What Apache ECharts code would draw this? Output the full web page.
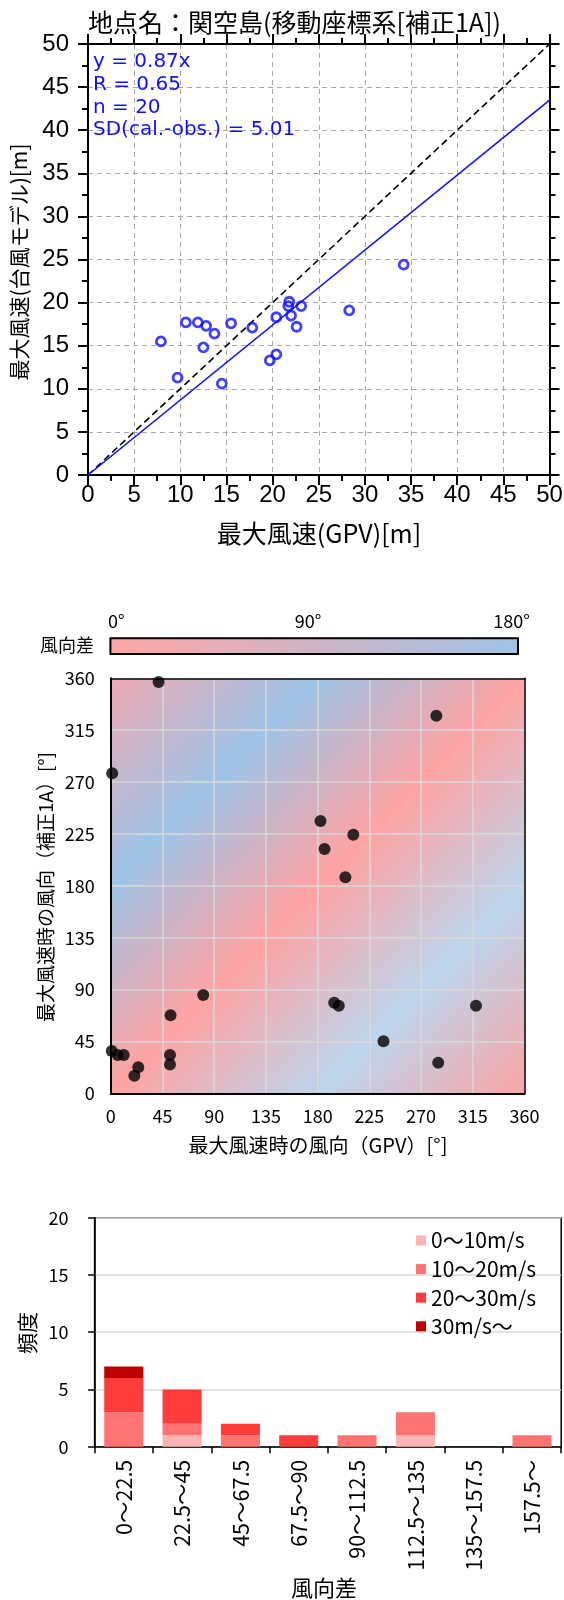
<!DOCTYPE html>
<html><head><meta charset="utf-8">
<script src="https://cdn.jsdelivr.net/npm/echarts@6/dist/echarts.min.js"></script>
<style>html,body{margin:0;padding:0;background:#fff}#c{width:564px;height:1600px}</style>
</head><body><div id="c"></div>
<script>
// ---------- Panel 1: max wind speed scatter ----------
const speedGPV   = [7.9, 9.7, 10.6, 11.9, 12.8, 12.5, 13.7, 14.5, 15.5, 17.8, 19.7, 20.4, 20.4, 21.8, 21.7, 22.0, 22.6, 23.1, 28.3, 34.2];
const speedModel = [15.5, 11.3, 17.7, 17.7, 17.3, 14.8, 16.4, 10.6, 17.6, 17.1, 13.3, 14.0, 18.3, 20.1, 19.6, 18.5, 17.2, 19.6, 19.1, 24.4];
const refLine = [[0, 0], [50, 50]];
const fitLine = [[0, 0], [50, 43.5]];
const statLines = ['y = 0.87x', 'R = 0.65', 'n = 20', 'SD(cal.-obs.) = 5.01'];

// ---------- Panel 2: wind direction scatter ----------
const dirGPV   = [41.6, 283.3, 1.2, 182.5, 211.0, 186.0, 204.1, 80.4, 52.0, 194.4, 198.4, 317.8, 237.3, 284.9, 0.8, 6.0, 11.2, 23.9, 20.5, 51.5, 51.5];
const dirModel = [356.8, 327.6, 277.6, 236.2, 224.3, 211.9, 187.4, 85.3, 67.7, 78.6, 76.0, 76.0, 45.1, 26.6, 36.7, 33.2, 33.2, 22.6, 15.3, 33.2, 25.0];
const bgExtent = [[0, 0, 360, 360]];
const dirTicks = ['0°', '90°', '180°'];

// ---------- Panel 3: histogram ----------
const diffCats = ['0～22.5', '22.5～45', '45～67.5', '67.5～90', '90～112.5', '112.5～135', '135～157.5', '157.5～'];
const cnt0_10  = [0, 1, 0, 0, 0, 1, 0, 0];
const cnt10_20 = [3, 1, 1, 0, 1, 2, 0, 1];
const cnt20_30 = [3, 3, 1, 1, 0, 0, 0, 0];
const cnt30    = [1, 0, 0, 0, 0, 0, 0, 0];
const speedNames = ['0～10m/s', '10～20m/s', '20～30m/s', '30m/s～'];

const JP = '"Noto Sans CJK JP"';
const pink = '#ffa3a3', blue1 = '#9dc3e6', blue2 = '#bcd5ec';
const BLUE = '#1010ff';

const chart = echarts.init(document.getElementById('c'), null, {renderer: 'canvas'});

function valAxis(grid, min, max, interval, pos, showLabel, margin) {
  return {
    gridIndex: grid, type: 'value', min: min, max: max, interval: interval, position: pos,
    axisLine: {show: true, onZero: false, lineStyle: {color: '#000', width: 2}},
    axisTick: {show: true, length: 10, lineStyle: {color: '#000', width: 2}},
    minorTick: {show: true, splitNumber: 2, length: 6, lineStyle: {color: '#000', width: 2}},
    splitLine: {show: showLabel, lineStyle: {color: '#a8a8a8', width: 1, type: [5, 4]}},
    minorSplitLine: {show: false},
    axisLabel: {show: showLabel, fontFamily: '"Liberation Sans"', fontSize: 24, color: '#000', margin: margin}
  };
}

function dirAxis(pos, showLabel, margin) {
  return {
    gridIndex: 1, type: 'value', min: 0, max: 360, interval: 45, position: pos,
    axisLine: {show: true, onZero: false, lineStyle: {color: '#000', width: showLabel ? 2 : 1.5}},
    axisTick: {show: false},
    splitLine: {show: showLabel, lineStyle: {color: '#d9d9d9', width: 1.5}},
    axisLabel: {show: showLabel, fontFamily: JP, fontSize: 18, color: '#000', margin: margin}
  };
}

function txt(x, y, text, opt) {
  opt = opt || {};
  return {
    type: 'text', x: x, y: y, rotation: opt.rot || 0, z: 100,
    style: {
      text: text, font: opt.font || ('22px ' + JP), fill: opt.color || '#000',
      textAlign: opt.align || 'center', textVerticalAlign: 'middle'
    }
  };
}

const graphics = [
  txt(88, 22, '地点名：関空島(移動座標系[補正1A])', {align: 'left', font: '25px ' + JP}),
  txt(19, 262, '最大風速(台風モデル)[m]', {rot: Math.PI / 2, font: '21px ' + JP}),
  txt(319, 533, '最大風速(GPV)[m]', {font: '25px ' + JP}),
  // colour bar
  {
    type: 'rect', z: 100,
    shape: {x: 110.4, y: 638.3, width: 407.6, height: 15.7},
    style: {
      fill: new echarts.graphic.LinearGradient(0, 0, 1, 0, [{offset: 0, color: '#ffa5a5'}, {offset: 1, color: '#9fc4e7'}]),
      stroke: '#000', lineWidth: 2
    }
  },
  txt(108, 621, dirTicks[0], {align: 'left', font: '18px ' + JP}),
  txt(308, 621, dirTicks[1], {font: '18px ' + JP}),
  txt(530, 621, dirTicks[2], {align: 'right', font: '18px ' + JP}),
  txt(94, 645, '風向差', {align: 'right', font: '18px ' + JP}),
  txt(46, 887, '最大風速時の風向（補正1A）[°]', {rot: Math.PI / 2, font: '19px ' + JP}),
  txt(318, 1145, '最大風速時の風向（GPV）[°]', {font: '20px ' + JP}),
  txt(27, 1333, '頻度', {rot: Math.PI / 2, font: '21px ' + JP}),
  txt(324, 1588, '風向差', {font: '22px ' + JP})
];
const statY = [61.7, 85, 107.5, 130];
statLines.forEach(function (s, i) {
  graphics.push(txt(93, statY[i], s, {align: 'left', color: BLUE, font: '20px "DejaVu Sans"'}));
});

const option = {
  animation: false,
  backgroundColor: '#fff',
  textStyle: {fontFamily: JP},
  grid: [
    {left: 88, top: 44, width: 461.5, height: 431, outerBoundsMode: 'none', containLabel: false},
    {left: 110.8, top: 678.3, width: 413.7, height: 415, outerBoundsMode: 'none', containLabel: false},
    {left: 94.6, top: 1217.7, width: 466.6, height: 229, outerBoundsMode: 'none', containLabel: false,
     show: true, borderColor: '#000', borderWidth: 1.5, backgroundColor: 'transparent'}
  ],
  xAxis: [
    valAxis(0, 0, 50, 5, 'bottom', true, 8),
    valAxis(0, 0, 50, 5, 'top', false, 8),
    dirAxis('bottom', true, 14),
    dirAxis('top', false, 8),
    {
      gridIndex: 2, type: 'category', data: diffCats, position: 'bottom',
      axisLine: {show: true, lineStyle: {color: '#000', width: 1.5}},
      axisTick: {show: true, alignWithLabel: false, interval: 0, length: 6.5, lineStyle: {color: '#000', width: 1.5}},
      axisLabel: {interval: 0, rotate: 90, fontFamily: JP, fontSize: 21.5, color: '#000', margin: 13},
      splitLine: {show: false}
    }
  ],
  yAxis: [
    valAxis(0, 0, 50, 5, 'left', true, 19),
    valAxis(0, 0, 50, 5, 'right', false, 8),
    dirAxis('left', true, 16),
    dirAxis('right', false, 8),
    {
      gridIndex: 2, type: 'value', min: 0, max: 20, interval: 5, position: 'left',
      axisLine: {show: true, lineStyle: {color: '#000', width: 1.5}},
      axisTick: {show: true, length: 6.5, lineStyle: {color: '#000', width: 1.5}},
      splitLine: {show: true, lineStyle: {color: '#d9d9d9', width: 1.5}},
      axisLabel: {fontFamily: JP, fontSize: 18, color: '#000', margin: 26}
    }
  ],
  legend: {
    data: speedNames, orient: 'vertical', left: 416, top: 1230,
    itemWidth: 10, itemHeight: 10, itemGap: 7.6, icon: 'rect', padding: 0,
    textStyle: {fontFamily: JP, fontSize: 21, color: '#000'}
  },
  graphic: graphics,
  series: [
    {
      type: 'line', xAxisIndex: 0, yAxisIndex: 0, data: refLine, symbol: 'none', z: 3,
      lineStyle: {color: '#000', width: 1.6, type: [7, 4]}
    },
    {
      type: 'line', xAxisIndex: 0, yAxisIndex: 0, data: fitLine, symbol: 'none', z: 3,
      lineStyle: {color: BLUE, width: 1.6}
    },
    {
      type: 'scatter', xAxisIndex: 0, yAxisIndex: 0, z: 4,
      data: speedGPV.map(function (v, i) { return [v, speedModel[i]]; }),
      symbol: 'circle', symbolSize: 9,
      itemStyle: {color: 'rgba(255,255,255,0)', borderColor: BLUE, borderWidth: 2.8}
    },
    {
      type: 'custom', xAxisIndex: 2, yAxisIndex: 2, z: -1, silent: true,
      data: bgExtent, encode: {x: [0, 2], y: [1, 3]},
      renderItem: function (params, api) {
        const x0 = api.value(0), y0 = api.value(1), x1 = api.value(2), y1 = api.value(3);
        const pBL = api.coord([x0, y0]), pTR = api.coord([x1, y1]), pTL = api.coord([x0, y1]);
        const sx = (pTR[0] - pBL[0]) / (x1 - x0), sy = (pBL[1] - pTR[1]) / (y1 - y0);
        const gx = 1 / sx, gy = 1 / sy;
        const span = (x1 - x0) + (y1 - y0);
        const k = span / (gx * gx + gy * gy);
        const grad = new echarts.graphic.LinearGradient(pTL[0], pTL[1], pTL[0] + k * gx, pTL[1] + k * gy, [
          {offset: 0, color: '#eeaab3'},
          {offset: 0.25, color: blue1},
          {offset: 0.5, color: pink},
          {offset: 0.75, color: blue2},
          {offset: 1, color: '#faa5a5'}
        ], true);
        return {
          type: 'rect',
          shape: {x: pBL[0], y: pTR[1], width: pTR[0] - pBL[0], height: pBL[1] - pTR[1]},
          style: {fill: grad}
        };
      }
    },
    {
      type: 'scatter', xAxisIndex: 2, yAxisIndex: 2, z: 4,
      data: dirGPV.map(function (v, i) { return [v, dirModel[i]]; }),
      symbol: 'circle', symbolSize: 12, itemStyle: {color: '#000'}
    },
    {name: speedNames[0], type: 'bar', stack: 'f', xAxisIndex: 4, yAxisIndex: 4, data: cnt0_10, barCategoryGap: '33%', itemStyle: {color: '#ffb3b3'}},
    {name: speedNames[1], type: 'bar', stack: 'f', xAxisIndex: 4, yAxisIndex: 4, data: cnt10_20, barCategoryGap: '33%', itemStyle: {color: '#ff7373'}},
    {name: speedNames[2], type: 'bar', stack: 'f', xAxisIndex: 4, yAxisIndex: 4, data: cnt20_30, barCategoryGap: '33%', itemStyle: {color: '#ff3b3b'}},
    {name: speedNames[3], type: 'bar', stack: 'f', xAxisIndex: 4, yAxisIndex: 4, data: cnt30, barCategoryGap: '33%', itemStyle: {color: '#c00000'}}
  ]
};
chart.setOption(option);
</script>
</body></html>
